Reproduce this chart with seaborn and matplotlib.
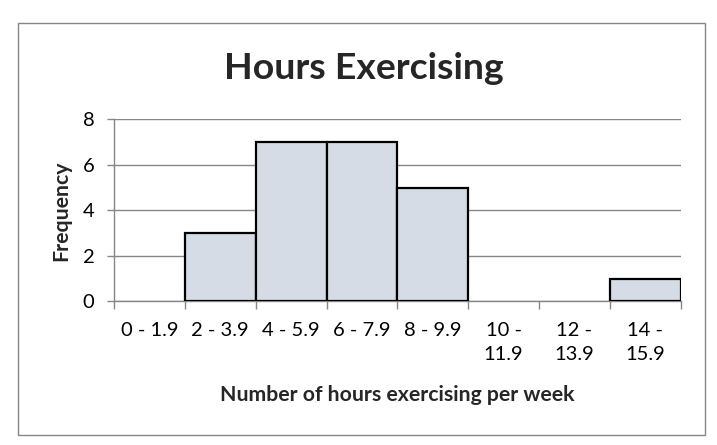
import matplotlib
matplotlib.use("Agg")
import matplotlib.pyplot as plt
import seaborn as sns
import pandas as pd
from matplotlib.patches import Rectangle

categories = ["0 - 1.9", "2 - 3.9", "4 - 5.9", "6 - 7.9", "8 - 9.9",
              "10 -\n11.9", "12 -\n13.9", "14 -\n15.9"]
frequency = [0, 3, 7, 7, 5, 0, 0, 1]
y_ticks = [0, 2, 4, 6, 8]

sns.set_theme(style="white")
plt.rcParams['font.family'] = ['Lato', 'DejaVu Sans']

W, H = 717, 445
fig = plt.figure(figsize=(W / 100, H / 100), dpi=100)
ax = fig.add_axes([114 / W, 1 - 301.3 / H, (680.7 - 114) / W, (301.3 - 119.3) / H])

df = pd.DataFrame({"cat": categories, "freq": frequency})
sns.barplot(data=df, x="cat", y="freq", color="#D6DCE5", saturation=1,
            edgecolor="black", linewidth=1.6, width=1.0, ax=ax, zorder=3)
for p in ax.patches:
    if p.get_height() == 0:
        p.set_edgecolor("none")

grid_c = "#868686"
ax.set_xlim(-0.5, len(categories) - 0.5)
ax.set_ylim(0, 8)
ax.set_yticks(y_ticks)
ax.set_yticklabels([str(v) for v in y_ticks])
ax.yaxis.grid(True, color=grid_c, linewidth=1.0)
ax.set_axisbelow(True)
for s in ["top", "right"]:
    ax.spines[s].set_visible(False)
for s in ["left", "bottom"]:
    ax.spines[s].set_color(grid_c)
    ax.spines[s].set_linewidth(1.0)
    ax.spines[s].set_zorder(2)

ax.set_xticks(range(len(categories)))
ax.set_xticklabels(categories, fontsize=14.5, linespacing=1.5)
ax.set_xticks([i - 0.5 for i in range(len(categories) + 1)], minor=True)
ax.tick_params(axis="x", which="major", length=0, pad=15, colors="black")
ax.tick_params(axis="x", which="minor", bottom=True, length=5.5, width=1.0, color=grid_c)
ax.tick_params(axis="y", which="major", left=True, length=5, width=1.0, color=grid_c,
               labelsize=14.5, labelcolor="black", pad=9)

ax.set_xlabel("Number of hours exercising per week", fontsize=15.3, fontweight="bold")
ax.xaxis.set_label_coords(0.5, (301.3 - 395) / 182, transform=ax.transAxes)
ax.xaxis.label.set_va("center")
ax.set_ylabel("Frequency", fontsize=15.3, fontweight="bold")
ax.yaxis.set_label_coords((61 - 114) / 566.7, 0.5)
ax.yaxis.label.set_va("center")

fig.text(363.5 / W, 1 - 79.3 / H, "Hours Exercising", fontsize=26.9, fontweight="bold",
         ha="center", va="baseline")

fig.patches.append(Rectangle((18.3 / W, 1 - 435 / H), (705.3 - 18.3) / W, (435 - 23.3) / H,
                             transform=fig.transFigure, fill=False, edgecolor=grid_c,
                             linewidth=1.0))

fig.savefig("out.png", dpi=100)
